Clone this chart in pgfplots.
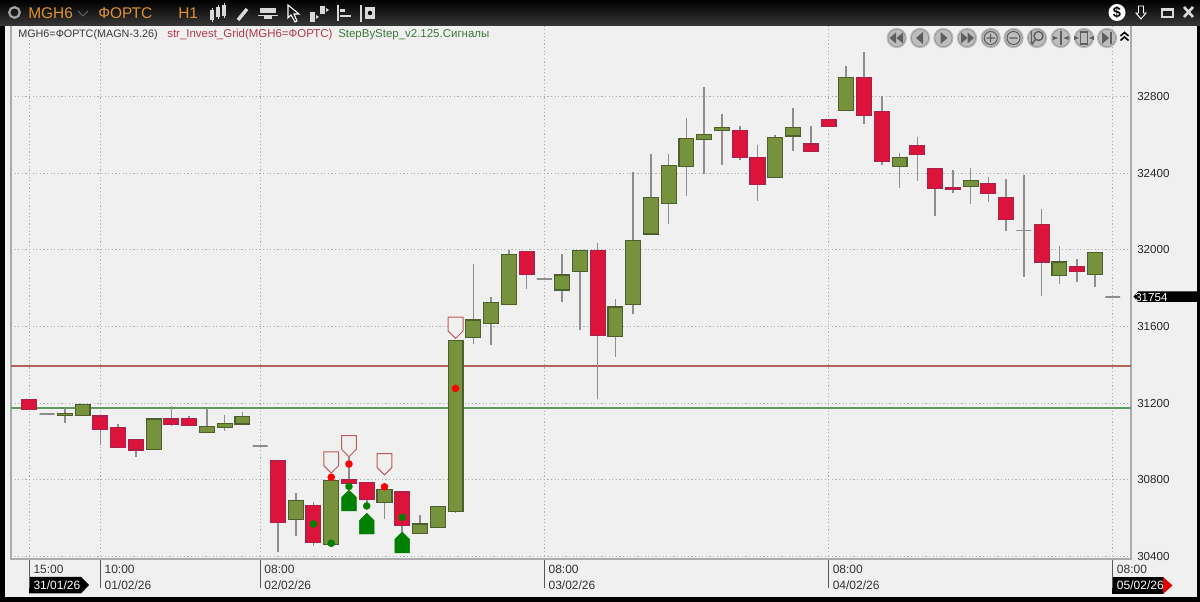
\documentclass[border=0pt]{standalone}
\usepackage{pgfplots}
\usepackage{pgfplotstable}
\usepackage{fontspec}
\setmainfont{Liberation Sans}
\pgfplotsset{compat=1.18}
\definecolor{panel}{HTML}{F0F0F0}
\definecolor{frameln}{HTML}{ABABAB}
\definecolor{fill0}{HTML}{76923C}
\definecolor{bord0}{HTML}{4E5F2E}
\definecolor{fill1}{HTML}{DC143C}
\definecolor{bord1}{HTML}{A8224A}
\definecolor{fill2}{HTML}{8C8C8C}
\definecolor{bord2}{HTML}{8C8C8C}
\definecolor{wick}{HTML}{8E8E8E}
\definecolor{orng}{HTML}{E0922E}
\definecolor{btn}{HTML}{BDBDBD}
\definecolor{btnd}{HTML}{5E5E5E}
\pgfdeclareplotmark{sigdown}{%
 \pgfpathmoveto{\pgfpoint{0pt}{0pt}}\pgfpathlineto{\pgfpoint{5.6pt}{5.6pt}}%
 \pgfpathlineto{\pgfpoint{5.6pt}{15.9pt}}\pgfpathlineto{\pgfpoint{-5.6pt}{15.9pt}}%
 \pgfpathlineto{\pgfpoint{-5.6pt}{5.6pt}}\pgfpathclose\pgfusepathqfillstroke}
\pgfdeclareplotmark{sigup}{%
 \pgfpathmoveto{\pgfpoint{0pt}{0pt}}\pgfpathlineto{\pgfpoint{5.5pt}{-5.4pt}}%
 \pgfpathlineto{\pgfpoint{5.5pt}{-15.6pt}}\pgfpathlineto{\pgfpoint{-5.5pt}{-15.6pt}}%
 \pgfpathlineto{\pgfpoint{-5.5pt}{-5.4pt}}\pgfpathclose\pgfusepathqfillstroke}
\pgfplotstableread{
i top bot high low k
0 31220 31169 31220 31169 1
1 31143 31143 31143 31143 2
2 31148 31136 31173 31095 0
3 31195 31134 31195 31134 0
4 31133 31063 31133 30983 1
5 31074 30969 31089 30969 1
6 31011 30955 31011 30920 1
7 31117 30959 31117 30959 0
8 31117 31087 31185 31080 1
9 31119 31082 31133 31082 1
10 31079 31048 31174 31048 0
11 31092 31072 31138 31056 0
12 31131 31091 31152 31091 0
13 30976 30976 30976 30976 2
14 30901 30575 30901 30424 1
15 30692 30593 30729 30508 0
16 30666 30473 30684 30455 1
17 30798 30463 30798 30463 0
18 30800 30781 30920 30772 1
19 30784 30698 30784 30663 1
20 30750 30682 30783 30593 0
21 30736 30560 30736 30523 1
22 30569 30520 30614 30520 0
23 30661 30551 30661 30551 0
24 31528 30633 31528 30628 0
25 31634 31542 31925 31509 0
26 31726 31618 31754 31503 0
27 31977 31716 31999 31716 0
28 31991 31874 31991 31796 1
29 31848 31848 31848 31848 2
30 31869 31791 31979 31728 0
31 31996 31888 31996 31583 0
32 31996 31552 32038 31221 1
33 31702 31547 31744 31441 0
34 32050 31716 32407 31665 0
35 32275 32083 32501 32078 0
36 32440 32243 32501 32134 0
37 32583 32434 32689 32281 0
38 32605 32576 32851 32396 0
39 32640 32622 32710 32445 0
40 32626 32484 32647 32469 1
41 32484 32343 32548 32257 1
42 32586 32377 32602 32377 0
43 32640 32595 32739 32515 0
44 32553 32513 32647 32513 1
45 32680 32643 32680 32643 1
46 32899 32727 32960 32727 0
47 32899 32704 33033 32657 1
48 32724 32464 32804 32445 1
49 32484 32438 32504 32325 0
50 32546 32497 32588 32360 1
51 32426 32322 32426 32179 1
52 32328 32316 32417 32299 1
53 32361 32330 32426 32238 0
54 32348 32297 32382 32252 1
55 32275 32161 32369 32100 1
56 32102 32102 32393 31860 2
57 32134 31937 32212 31759 1
58 31937 31867 32020 31822 0
59 31912 31888 31952 31832 1
60 31985 31873 31985 31808 0
61 31754 31754 31754 31754 2
}\candles
\tikzset{px/.style={x=0.75pt,y=-0.75pt,yshift=451.5pt}}
\begin{document}
\begin{tikzpicture}
\path[use as bounding box] (0,0) rectangle (900pt,451.5pt);
\begin{scope}[px]
\fill[black] (0,0) rectangle (1200,602);
\fill[panel] (5,26) rectangle (1197,597);
% time tags
\fill[black] (29,577) -- (81,577) -- (89,585) -- (81,593.5) -- (29,593.5) -- cycle;
\fill[black] (1112,577) rectangle (1164,594);
\fill[red!90!black] (1163,577) -- (1172.5,585.5) -- (1163,594) -- cycle;
% price tag
\fill[black] (1133.5,296.5) -- (1138,291.5) -- (1197,291.5) -- (1197,302) -- (1138,302) -- cycle;
\end{scope}
\begin{axis}[
  at={(8.25pt,32pt)}, anchor=south west, scale only axis,
  width=840pt, height=400.7pt,
  xmin=-1.03, xmax=62.03, ymin=30384.3, ymax=33174.5,
  axis line style={frameln,line width=1.4pt},
  grid=major,
  grid style={color=black!32,line width=.7pt,dash pattern=on .9pt off 1.8pt},
  xtick={0,4,13,29,45,61},
  xticklabels={15:00\\\textcolor{white}{31/01/26},10:00\\01/02/26,08:00\\02/02/26,08:00\\03/02/26,08:00\\04/02/26,08:00\\\textcolor{white}{05/02/26}},
  x tick label style={align=left,anchor=north west,font=\fontsize{9}{12}\selectfont,text=black!80,inner sep=0pt,xshift=3pt,yshift=-4.5pt},
  scaled y ticks=false,
  ytick={30400,30800,31200,31600,32000,32400,32800},
  extra y ticks={31754},
  extra y tick labels={\hspace*{20pt}\textcolor{white}{31754}},
  extra tick style={grid=none,major tick length=0pt},
  yticklabel pos=right,
  y tick label style={anchor=west,font=\fontsize{8.7}{11}\selectfont,text=black!85,inner sep=0pt,xshift=-17pt,/pgf/number format/assume math mode=true,/pgf/number format/1000 sep={},/pgf/number format/fixed},
  ytick style={draw=none},
  x tick style={draw=black!65,line width=.8pt},
  tick align=outside,
  xtick pos=bottom,
  major tick length=21.5pt,
  xticklabel shift=-22pt,
  clip=true,
]
\addplot[line width=1.1pt,draw={rgb,255:red,180;green,96;blue,90}] coordinates {(-1.03,31395) (62.03,31395)};
\addplot[line width=1.1pt,draw={rgb,255:red,96;green,152;blue,96}] coordinates {(-1.03,31174) (62.03,31174)};
\pgfplotsinvokeforeach{0,...,61}{
  \pgfplotstablegetelem{#1}{top}\of\candles \edef\ct{\pgfplotsretval}
  \pgfplotstablegetelem{#1}{bot}\of\candles \edef\cb{\pgfplotsretval}
  \pgfplotstablegetelem{#1}{high}\of\candles \edef\ch{\pgfplotsretval}
  \pgfplotstablegetelem{#1}{low}\of\candles \edef\cl{\pgfplotsretval}
  \pgfplotstablegetelem{#1}{k}\of\candles \edef\ck{\pgfplotsretval}
  \pgfmathsetmacro\xl{#1-0.42}
  \pgfmathsetmacro\xr{#1+0.42}
  \edef\doplot{%
    \noexpand\addplot[draw=wick,line width=1.2pt] coordinates {(#1,\ch) (#1,\cl)};
    \noexpand\addplot[draw=bord\ck,fill=fill\ck,line width=.85pt] coordinates {(\xl,\ct) (\xr,\ct) (\xr,\cb) (\xl,\cb)} -- cycle;
  }
  \doplot
}
% signal markers
\addplot[only marks,mark=sigdown,mark options={draw={rgb,255:red,190;green,90;blue,90},fill=panel,line width=.75pt}] coordinates {(17,30835) (18,30920) (20,30825) (24,31538)};
\addplot[only marks,mark=sigup,mark options={draw=green!50!black,fill=green!50!black,line width=.3pt}] coordinates {(18,30746) (19,30625) (21,30527)};
\addplot[only marks,mark=*,mark size=2.6pt,mark options={draw=red,fill=red}] coordinates {(17,30813) (18,30882) (20,30763) (24,31277)};
\addplot[only marks,mark=*,mark size=2.6pt,mark options={draw=green!50!black,fill=green!50!black}] coordinates {(16,30569) (17,30468) (18,30765) (19,30663) (21,30604)};
\end{axis}
\begin{scope}[px]
% top bar
\shade[top color=black,bottom color=black!78] (0,0) rectangle (1200,26);
% legend row
\node[anchor=west,inner sep=0pt,font=\fontsize{8.1}{10}\selectfont,text=black!78] at (18,34.5) {MGH6=ФОРТС(MAGN-3.26)};
\node[anchor=west,inner sep=0pt,font=\fontsize{8.6}{10}\selectfont,text={rgb,255:red,178;green,58;blue,72}] at (167,34.5) {str\_Invest\_Grid(MGH6=ФОРТС)};
\node[anchor=west,inner sep=0pt,font=\fontsize{8.6}{10}\selectfont,text={rgb,255:red,58;green,122;blue,58}] at (338,34.5) {StepByStep\_v2.125.Сигналы};
% header text
\draw[black!35,line width=1.6pt] (14.5,12.5) circle (5.3);
\node[anchor=west,inner sep=0pt,font=\fontsize{11.6}{14}\selectfont,text=orng] at (28,13) {MGH6};
\draw[black!60,line width=.7pt] (78,11) -- (83,16) -- (88,11);
\node[anchor=west,inner sep=0pt,font=\fontsize{11.6}{14}\selectfont,text=orng] at (98,13) {ФОРТС};
\node[anchor=west,inner sep=0pt,font=\fontsize{11.6}{14}\selectfont,text=orng] at (178,13) {H1};
% toolbar icons
\foreach \a/\b/\c in {212/10/20,218/7/17,224/5/16}{\draw[white!85!black,line width=.5pt] (\a,\b-2) -- (\a,\c+2); \fill[white!85!black] (\a-2,\b) rectangle (\a+2,\c);}
\draw[white!85!black,line width=2.6pt] (238,20) -- (247,9);
\fill[white!85!black] (260,8) rectangle (276,13);
\fill[white!85!black] (264,15) rectangle (272,19);
\draw[white!85!black,line width=.7pt] (258,15) -- (278,15);
\draw[white,line width=.8pt] (288,5) -- (288,18) -- (291,15) -- (295,22) -- (297,21) -- (294,14) -- (299,14) -- cycle;
\fill[white!85!black] (310,12) rectangle (315,22);
\fill[white!85!black] (320,6) rectangle (325,14);
\fill[white!85!black] (316,15) -- (319,17) -- (316,19) -- cycle;
\fill[white!85!black] (326,8) -- (329,10) -- (326,12) -- cycle;
\draw[white!85!black,line width=.9pt] (338,5) -- (338,21);
\fill[white!85!black] (340,9) rectangle (345,12);
\fill[white!85!black] (340,15) rectangle (351,17);
\draw[white!85!black,line width=1.2pt] (361,5) -- (361,22);
\fill[white!85!black] (365,7) rectangle (375,19);
\fill[black] (370,13) circle (2.2);
% $ close etc.
\fill[white] (1117,12.5) circle (8.5);
\node[inner sep=0pt,font=\bfseries\fontsize{11}{12}\selectfont,text=black] at (1117,12.5) {\$};
\draw[white,line width=.7pt] (1138.5,6) -- (1143.5,6) -- (1143.5,13) -- (1146,13) -- (1141,19) -- (1136,13) -- (1138.5,13) -- cycle;
\draw[white!85!black,line width=1.1pt] (1162,8.5) rectangle (1173,17);
\fill[white!85!black] (1162,8) rectangle (1173,11);
\draw[white!85!black,line width=2pt] (1184,7) -- (1193,17) (1193,7) -- (1184,17);
% buttons
\foreach \x in {896.7,920,943.4,967,990.7,1013.5,1037,1060.7,1084,1107}{
  \fill[btn] (\x,38) circle (10.2); \draw[black!45!white,line width=.4pt] (\x,38) circle (8.6);
}
\fill[btnd] (896,32.5) -- (896,43.5) -- (889.5,38) -- cycle;
\fill[btnd] (903,32.5) -- (903,43.5) -- (896.5,38) -- cycle;
\fill[btnd] (923,32) -- (923,44) -- (916,38) -- cycle;
\fill[btnd] (940.5,32) -- (940.5,44) -- (947.5,38) -- cycle;
\fill[btnd] (961,32.5) -- (961,43.5) -- (967.5,38) -- cycle;
\fill[btnd] (967.5,32.5) -- (967.5,43.5) -- (974,38) -- cycle;
\draw[btnd,line width=.8pt] (990.7,38) circle (6.5) (986.5,38) -- (995,38) (990.7,33.8) -- (990.7,42.2);
\draw[btnd,line width=.8pt] (1013.5,38) circle (6.5) (1009.3,38) -- (1017.7,38);
\draw[btnd,line width=1.1pt] (1038.5,36) circle (4.5) (1035,40) -- (1032,44.5) (1031.5,31) -- (1031.5,44);
\draw[btnd,line width=1.2pt] (1060.7,31) -- (1060.7,45);
\fill[btnd] (1053,36) -- (1058,38) -- (1053,40) -- cycle (1068.5,36) -- (1063.5,38) -- (1068.5,40) -- cycle;
\draw[btnd,line width=.9pt] (1080.5,32) rectangle (1087.5,44);
\fill[btnd] (1074,36) -- (1079,38) -- (1074,40) -- cycle (1094,36) -- (1089,38) -- (1094,40) -- cycle;
\fill[btnd] (1102,32) -- (1102,44) -- (1109,38) -- cycle;
\draw[btnd,line width=1.3pt] (1111,32) -- (1111,44);
\draw[black,line width=1.2pt] (1120.5,36) -- (1124.5,32.5) -- (1128.5,36) (1120.5,40.5) -- (1124.5,37) -- (1128.5,40.5);
\end{scope}
\end{tikzpicture}
\end{document}
